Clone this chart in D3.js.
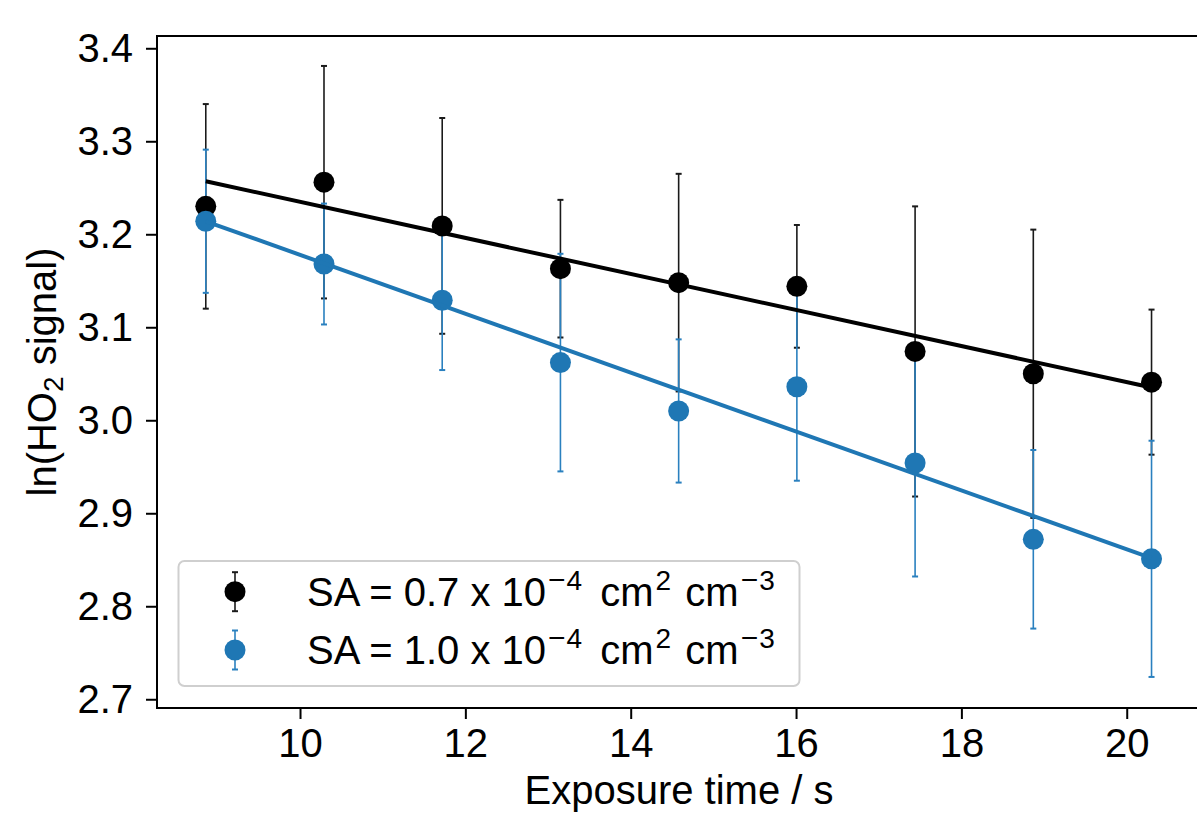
<!DOCTYPE html>
<html>
<head>
<meta charset="utf-8">
<script src="https://cdn.jsdelivr.net/npm/d3@7"></script>
<style>
  html, body { margin: 0; padding: 0; background: #fff; }
  svg { display: block; font-family: "Liberation Sans", Arial, sans-serif; }
</style>
</head>
<body>
<svg id="chart" width="1197" height="813"></svg>
<script>
// ---- data ----
const exposureTimes = [8.86, 10.29, 11.72, 13.15, 14.58, 16.01, 17.44, 18.87, 20.30];
const signalSA07 = [3.230, 3.256, 3.209, 3.163, 3.148, 3.144, 3.074, 3.050, 3.041];
const errorSA07  = [0.110, 0.125, 0.116, 0.074, 0.117, 0.066, 0.156, 0.155, 0.078];
const signalSA10 = [3.214, 3.168, 3.129, 3.062, 3.010, 3.036, 2.954, 2.872, 2.851];
const errorSA10  = [0.077, 0.065, 0.075, 0.117, 0.077, 0.101, 0.122, 0.096, 0.127];
const xTicks = [10, 12, 14, 16, 18, 20];
const yTicks = [2.7, 2.8, 2.9, 3.0, 3.1, 3.2, 3.3, 3.4];
const xDomain = [8.27, 20.85];
const yDomain = [2.6906, 3.4132];
const seriesNames = ["0.7", "1.0"];
const seriesColors = ["#000000", "#1f77b4"];

(function () {
// ---- layout ----
const svg = d3.select("#chart");
const pLeft = 157, pRight = 1197, pTop = 36, pBottom = 708;
const x = d3.scaleLinear().domain(xDomain).range([pLeft, pRight]);
const y = d3.scaleLinear().domain(yDomain).range([pBottom, pTop]);

const series = [
  { name: seriesNames[0], color: seriesColors[0], bar: "#1a1a1a", vals: signalSA07, errs: errorSA07 },
  { name: seriesNames[1], color: seriesColors[1], bar: "#2a80bf", vals: signalSA10, errs: errorSA10 }
];
series.forEach(s => {
  s.pts = exposureTimes.map((t, i) => ({ t, v: s.vals[i], e: s.errs[i] }));
  // least-squares fit
  const mx = d3.mean(exposureTimes), my = d3.mean(s.vals);
  let num = 0, den = 0;
  exposureTimes.forEach((t, i) => { num += (t - mx) * (s.vals[i] - my); den += (t - mx) * (t - mx); });
  const slope = num / den, icpt = my - slope * mx;
  const ext = d3.extent(exposureTimes);
  s.fit = ext.map(t => ({ t, v: icpt + slope * t }));
});

svg.append("clipPath").attr("id", "clip").append("rect")
  .attr("x", pLeft).attr("y", pTop).attr("width", pRight - pLeft).attr("height", pBottom - pTop);
const plot = svg.append("g").attr("clip-path", "url(#clip)");

// error bars
series.forEach(s => {
  const g = plot.append("g").attr("stroke", s.bar).attr("stroke-width", 1.6);
  g.selectAll("line.bar").data(s.pts).join("line").attr("class", "bar")
    .attr("x1", d => x(d.t)).attr("x2", d => x(d.t))
    .attr("y1", d => y(d.v - d.e)).attr("y2", d => y(d.v + d.e));
  g.selectAll("line.capT").data(s.pts).join("line").attr("class", "capT")
    .attr("x1", d => x(d.t) - 3).attr("x2", d => x(d.t) + 3)
    .attr("y1", d => y(d.v + d.e)).attr("y2", d => y(d.v + d.e)).attr("stroke-width", 2);
  g.selectAll("line.capB").data(s.pts).join("line").attr("class", "capB")
    .attr("x1", d => x(d.t) - 3).attr("x2", d => x(d.t) + 3)
    .attr("y1", d => y(d.v - d.e)).attr("y2", d => y(d.v - d.e)).attr("stroke-width", 2);
});
// markers
series.forEach(s => {
  plot.append("g").selectAll("circle").data(s.pts).join("circle")
    .attr("cx", d => x(d.t)).attr("cy", d => y(d.v)).attr("r", 10.5)
    .attr("fill", s.color);
});
// fit lines
const line = d3.line().x(d => x(d.t)).y(d => y(d.v));
series.forEach(s => {
  plot.append("path").datum(s.fit).attr("d", line)
    .attr("fill", "none").attr("stroke", s.color).attr("stroke-width", 4);
});

// axes
const xAxis = d3.axisBottom(x).tickValues(xTicks).tickFormat(d3.format("d")).tickSize(11).tickPadding(10);
const yAxis = d3.axisLeft(y).tickValues(yTicks).tickFormat(d3.format(".1f")).tickSize(11).tickPadding(13);
const gx = svg.append("g").attr("transform", `translate(0,${pBottom})`).call(xAxis);
const gy = svg.append("g").attr("transform", `translate(${pLeft},0)`).call(yAxis);
[gx, gy].forEach(g => {
  g.select(".domain").remove();
  g.selectAll(".tick line").attr("stroke", "#000").attr("stroke-width", 2);
  g.selectAll(".tick text").attr("fill", "#000").style("font-size", "40px")
    .style("font-family", '"Liberation Sans", Arial, sans-serif');
});
gx.selectAll(".tick text").attr("dy", "0.71em");
// spines
svg.append("rect").attr("x", pLeft).attr("y", pTop).attr("width", pRight + 2 - pLeft).attr("height", pBottom - pTop)
  .attr("fill", "none").attr("stroke", "#000").attr("stroke-width", 2);

// axis labels
svg.append("text").attr("x", (pLeft + pRight) / 2 + 2).attr("y", 804)
  .attr("text-anchor", "middle").style("font-size", "40px").text("Exposure time / s");
const yl = svg.append("text").attr("transform", `translate(56,${(pTop + pBottom) / 2}) rotate(-90)`)
  .attr("text-anchor", "middle").style("font-size", "40px");
yl.append("tspan").text("ln(HO");
yl.append("tspan").text("2").style("font-size", "28px").attr("dy", 7);
yl.append("tspan").text(" signal)").attr("dy", -7);

// legend
const lg = svg.append("g");
lg.append("rect").attr("x", 178.5).attr("y", 561).attr("width", 621).attr("height", 125)
  .attr("rx", 6).attr("fill", "#fff").attr("fill-opacity", 0.8)
  .attr("stroke", "#cfcfcf").attr("stroke-width", 2);
series.forEach((s, i) => {
  const cy = 591.7 + i * 58.3;
  const g = lg.append("g");
  g.append("line").attr("x1", 235).attr("x2", 235).attr("y1", cy - 19.5).attr("y2", cy + 19.5)
    .attr("stroke", s.bar).attr("stroke-width", 1.6);
  [-19.5, 19.5].forEach(o => g.append("line").attr("x1", 232).attr("x2", 238)
    .attr("y1", cy + o).attr("y2", cy + o).attr("stroke", s.bar).attr("stroke-width", 2));
  g.append("circle").attr("cx", 235).attr("cy", cy).attr("r", 10.5).attr("fill", s.color);
  const t = g.append("text").attr("x", 307).attr("y", cy + 14.2).style("font-size", "40px");
  t.append("tspan").text(`SA = ${s.name} x 10`);
  t.append("tspan").text("\u2212").style("font-size", "30px").attr("dy", -16).attr("dx", 2);
  t.append("tspan").text("4").style("font-size", "28px").attr("dx", 1);
  t.append("tspan").text(" cm").attr("dy", 16).attr("dx", 7);
  t.append("tspan").text("2").style("font-size", "28px").attr("dy", -16).attr("dx", 2);
  t.append("tspan").text(" cm").attr("dy", 16).attr("dx", 3);
  t.append("tspan").text("\u2212").style("font-size", "30px").attr("dy", -16).attr("dx", 2);
  t.append("tspan").text("3").style("font-size", "28px").attr("dx", 1);
});
})();
</script>
</body>
</html>
